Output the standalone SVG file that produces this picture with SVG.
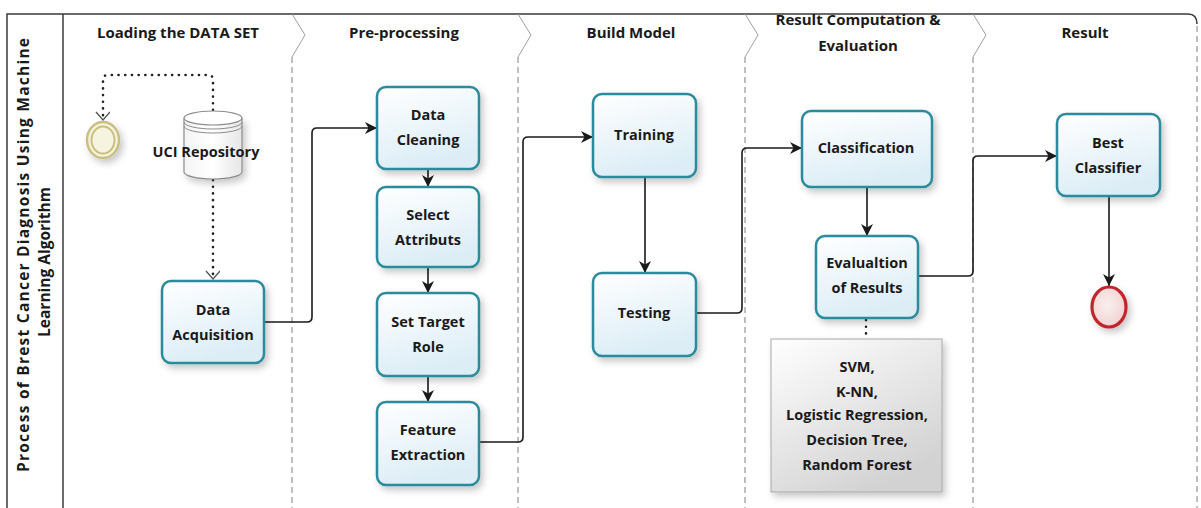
<svg xmlns="http://www.w3.org/2000/svg" width="1201" height="508" viewBox="0 0 1201 508">
<defs>
<style>
.frame{fill:none;stroke:#3a3a3a;stroke-width:1.5}
.lane{fill:none;stroke:#808080;stroke-width:1;stroke-dasharray:6 4}
.chev{fill:none;stroke:#a0a0a0;stroke-width:1}
.hdr{font-family:"Open Sans","Noto Sans",sans-serif;font-weight:bold;font-size:15px;fill:#1a1a1a;text-anchor:middle}
.title{font-family:"Open Sans","Noto Sans",sans-serif;font-weight:bold;font-size:15.5px;fill:#1a1a1a;text-anchor:middle}
.task{fill:url(#taskFill);stroke:#2b8b9c;stroke-width:2.5;filter:url(#shadow)}
.lbl{font-family:"Open Sans","Noto Sans",sans-serif;font-weight:bold;font-size:14.5px;fill:#1a1a1a;text-anchor:middle}
.flow{fill:none;stroke:#1a1a1a;stroke-width:1.6;marker-end:url(#arrow)}
.assoc{fill:none;stroke:#222;stroke-width:2.6;stroke-linecap:round;stroke-dasharray:0.1 6.6}
</style>
<linearGradient id="taskFill" x1="0" y1="0" x2="0.3" y2="1">
<stop offset="0" stop-color="#ffffff"/>
<stop offset="1" stop-color="#dcedf6"/>
</linearGradient>
<linearGradient id="noteFill" x1="0" y1="0" x2="0.6" y2="1">
<stop offset="0" stop-color="#ffffff"/>
<stop offset="1" stop-color="#d2d2d2"/>
</linearGradient>
<linearGradient id="cylFill" x1="0" y1="0" x2="1" y2="0">
<stop offset="0" stop-color="#f4f4f4"/>
<stop offset="0.5" stop-color="#ffffff"/>
<stop offset="1" stop-color="#e6e6e6"/>
</linearGradient>
<radialGradient id="endFill" cx="0.45" cy="0.45" r="0.6">
<stop offset="0" stop-color="#fbeeee"/>
<stop offset="1" stop-color="#f0d2d2"/>
</radialGradient>
<filter id="shadow" x="-20%" y="-20%" width="150%" height="150%">
<feDropShadow dx="3" dy="4" stdDeviation="3.5" flood-color="#000" flood-opacity="0.22"/>
</filter>
<marker id="arrow" markerUnits="userSpaceOnUse" markerWidth="14" markerHeight="12" refX="12" refY="6" orient="auto">
<path d="M0,0 L12,6 L0,12 L3.5,6 z" fill="#1a1a1a"/>
</marker>
<marker id="vopen" markerUnits="userSpaceOnUse" markerWidth="12" markerHeight="16" refX="9" refY="7" orient="auto">
<path d="M1,0 L9,7 L1,14" fill="none" stroke="#555" stroke-width="1.3"/>
</marker>
</defs>

<rect width="1201" height="508" fill="#ffffff"/>

<g id="pool">
<path class="frame" d="M7,508 V14 H1188 Q1197,14 1197,24"/>
<line class="frame" x1="63" y1="14" x2="63" y2="508"/>
<line class="lane" x1="1197" y1="26" x2="1197" y2="508"/>
<text class="title" transform="translate(29,255) rotate(-90)" textLength="434" lengthAdjust="spacing">Process  of Brest Cancer Diagnosis Using Machine</text>
<text class="title" transform="translate(50,262) rotate(-90)">Learning Algorithm</text>
</g>

<g id="lanes">
<path class="chev" d="M292,14 L305,35 L292,57"/>
<line class="lane" x1="292" y1="57" x2="292" y2="508"/>
<path class="chev" d="M518,14 L531,35 L518,57"/>
<line class="lane" x1="518" y1="57" x2="518" y2="508"/>
<path class="chev" d="M745,14 L758,35 L745,57"/>
<line class="lane" x1="745" y1="57" x2="745" y2="508"/>
<path class="chev" d="M973,14 L986,35 L973,57"/>
<line class="lane" x1="973" y1="57" x2="973" y2="508"/>
<text class="hdr" x="178" y="38">Loading the DATA SET</text>
<text class="hdr" x="404" y="38">Pre-processing</text>
<text class="hdr" x="631" y="38">Build Model</text>
<text class="hdr" x="858" y="25">Result Computation &amp;</text>
<text class="hdr" x="858" y="51">Evaluation</text>
<text class="hdr" x="1085" y="38">Result</text>
</g>

<g id="connectors">
<path class="assoc" d="M213,110 V80 Q213,75 208,75 H108 Q103,75 103,80 V118"/>
<path d="M103,118 L103,120" fill="none" stroke="none" marker-end="url(#vopen)"/>
<path class="assoc" d="M213,180 V276"/>
<path d="M213,276 L213,279" fill="none" stroke="none" marker-end="url(#vopen)"/>
<path class="assoc" d="M866,320 V338"/>
<path class="flow" d="M264,322 H307 Q312,322 312,317 V133 Q312,128 317,128 H377"/>
<path class="flow" d="M428,169 V187"/>
<path class="flow" d="M428,267 V293"/>
<path class="flow" d="M428,376 V402"/>
<path class="flow" d="M479,442 H518 Q523,442 523,437 V142 Q523,137 528,137 H593"/>
<path class="flow" d="M645,177 V273"/>
<path class="flow" d="M696,313 H737 Q742,313 742,308 V153 Q742,148 747,148 H802"/>
<path class="flow" d="M867,187 V236"/>
<path class="flow" d="M918,276 H968 Q973,276 973,271 V161 Q973,156 978,156 H1057"/>
<path class="flow" d="M1109,196 V286"/>
</g>

<g id="start">
<ellipse cx="103" cy="140" rx="16" ry="18" fill="#f6f3df" stroke="#c8bf80" stroke-width="2.5" filter="url(#shadow)"/>
<ellipse cx="103" cy="140" rx="11.5" ry="13.5" fill="none" stroke="#c8bf80" stroke-width="2"/>
</g>

<g id="uci-repository">
<path d="M184,118 V172 A29,7 0 0 0 242,172 V118" fill="url(#cylFill)" stroke="#8c8c8c" stroke-width="1.2" filter="url(#shadow)"/>
<ellipse cx="213" cy="118" rx="29" ry="7" fill="#ffffff" stroke="#8c8c8c" stroke-width="1.2"/>
<path d="M184,122 A29,7 0 0 0 242,122 M184,126 A29,7 0 0 0 242,126" fill="none" stroke="#8c8c8c" stroke-width="1"/>
<text class="lbl" x="206" y="157">UCI Repository</text>
</g>

<g id="data-acquisition">
<rect class="task" x="162" y="281" width="102" height="82" rx="9"/>
<text class="lbl" x="213" y="315">Data</text>
<text class="lbl" x="213" y="340">Acquisition</text>
</g>

<g id="data-cleaning">
<rect class="task" x="377" y="87" width="102" height="82" rx="9"/>
<text class="lbl" x="428" y="120">Data</text>
<text class="lbl" x="428" y="145">Cleaning</text>
</g>

<g id="select-attributs">
<rect class="task" x="377" y="187" width="102" height="80" rx="9"/>
<text class="lbl" x="428" y="220">Select</text>
<text class="lbl" x="428" y="245">Attributs</text>
</g>

<g id="set-target-role">
<rect class="task" x="377" y="293" width="102" height="83" rx="9"/>
<text class="lbl" x="428" y="327">Set Target</text>
<text class="lbl" x="428" y="352">Role</text>
</g>

<g id="feature-extraction">
<rect class="task" x="377" y="402" width="102" height="83" rx="9"/>
<text class="lbl" x="428" y="435">Feature</text>
<text class="lbl" x="428" y="460">Extraction</text>
</g>

<g id="training">
<rect class="task" x="593" y="94" width="103" height="83" rx="9"/>
<text class="lbl" x="644" y="140">Training</text>
</g>

<g id="testing">
<rect class="task" x="593" y="273" width="103" height="83" rx="9"/>
<text class="lbl" x="644" y="318">Testing</text>
</g>

<g id="classification">
<rect class="task" x="802" y="111" width="130" height="76" rx="9"/>
<text class="lbl" x="866" y="153">Classification</text>
</g>

<g id="evaluation">
<rect class="task" x="816" y="236" width="102" height="82" rx="9"/>
<text class="lbl" x="867" y="268">Evalualtion</text>
<text class="lbl" x="867" y="293">of Results</text>
</g>

<g id="algorithms-note">
<rect x="771" y="339" width="171" height="153" fill="url(#noteFill)" stroke="#a8a8a8" stroke-width="1" filter="url(#shadow)"/>
<text class="lbl" x="857" y="372">SVM,</text>
<text class="lbl" x="857" y="397">K-NN,</text>
<text class="lbl" x="857" y="420">Logistic Regression,</text>
<text class="lbl" x="857" y="445">Decision Tree,</text>
<text class="lbl" x="857" y="470">Random Forest</text>
</g>

<g id="best-classifier">
<rect class="task" x="1057" y="114" width="103" height="82" rx="9"/>
<text class="lbl" x="1108" y="148">Best</text>
<text class="lbl" x="1108" y="173">Classifier</text>
</g>

<g id="end">
<ellipse cx="1109" cy="307" rx="17" ry="20" fill="url(#endFill)" stroke="#c0262c" stroke-width="3.2" filter="url(#shadow)"/>
</g>
</svg>
